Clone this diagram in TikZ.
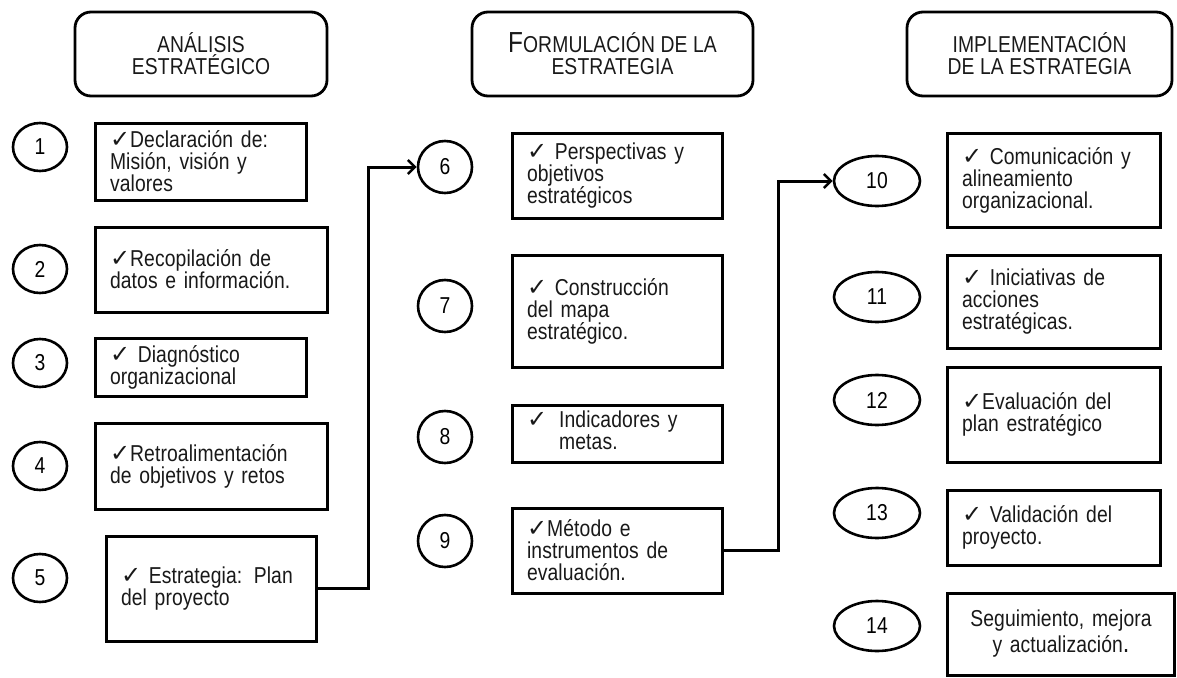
\documentclass[tikz,border=0pt]{standalone}
\usepackage{fontspec}
\setmainfont[LetterSpace=0.5,FakeStretch=0.84]{Liberation Sans}
\newfontfamily\symfont{DejaVu Sans}
\usetikzlibrary{arrows.meta,shadows,shapes.geometric}
\newcommand\ck{{\symfont\fontsize{24}{22}\selectfont ✓}}
\begin{document}
\begin{tikzpicture}[x=1pt,y=-1pt,
  txt/.style={font=\fontsize{23}{22}\selectfont, text=black!90},
  head/.style={txt, draw, line width=2.8pt, rounded corners=16pt, align=center},
  item/.style={txt, draw, line width=3pt, align=left, inner xsep=15pt, inner ysep=3pt, fill=white,
     drop shadow={shadow xshift=1.5pt, shadow yshift=-1.5pt, fill=black, opacity=0.25}},
  num/.style={txt, text=black, draw, ellipse, line width=2.6pt, inner sep=0pt},
  numa/.style={num, minimum width=54pt, minimum height=48pt},
  numb/.style={num, minimum width=54pt, minimum height=52pt},
  numc/.style={num, minimum width=86pt, minimum height=50pt},
  conn/.style={line width=3pt, -{Straight Barb[length=7pt,width=14pt,line width=2.6pt]}}
]
\useasboundingbox (0,0) rectangle (1177,677);

% headers
\node[head, minimum width=252pt, minimum height=84pt] (h1) at (201,54) {ANÁLISIS\\ESTRATÉGICO};
\node[head, minimum width=281pt, minimum height=84pt] (h2) at (612.5,54) {{\fontsize{29}{22}\selectfont F}ORMULACIÓN DE LA\\ESTRATEGIA};
\node[head, minimum width=265pt, minimum height=84pt] (h3) at (1039.5,54) {IMPLEMENTACIÓN\\DE LA ESTRATEGIA};

% column 1
\node[numa] (c1) at (40,147) {1};
\node[numa] (c2) at (40,269) {2};
\node[numa] (c3) at (40,363) {3};
\node[numa] (c4) at (40,466) {4};
\node[numa] (c5) at (40,578) {5};

\node[item, text width=181pt, minimum height=77pt] (b1) at (200.5,161.5) {\ck Declaración de:\\Misión, visión y\\valores};
\node[item, text width=202pt, minimum height=85pt] (b2) at (211,269.5) {\ck Recopilación de\\datos e información.};
\node[item, text width=181pt, minimum height=58pt] (b3) at (200.5,367) {\ck\ Diagnóstico\\organizacional};
\node[item, text width=202pt, minimum height=86pt] (b4) at (211,466) {\ck Retroalimentación\\de objetivos y retos};
\node[item, text width=180pt, minimum height=105pt] (b5) at (211,588.5) {\ck\ Estrategia: Plan\\del proyecto};

% column 2
\node[numb] (c6) at (445,167) {6};
\node[numb] (c7) at (445,306) {7};
\node[numb] (c8) at (445,437) {8};
\node[numb] (c9) at (445,541) {9};

\node[item, text width=180pt, minimum height=85pt] (b6) at (617,175.5) {\ck\ Perspectivas y\\objetivos\\estratégicos};
\node[item, text width=180pt, minimum height=112pt] (b7) at (617,311) {\ck\ Construcción\\del mapa\\estratégico.};
\node[item, text width=180pt, minimum height=57pt] (b8) at (617,433.5) {\ck\hspace{12pt}\begin{tabular}[t]{@{}l@{}}Indicadores y\\metas.\end{tabular}};
\node[item, text width=180pt, minimum height=85pt] (b9) at (617,550.5) {\ck Método e\\instrumentos de\\evaluación.};

% column 3
\node[numc] (c10) at (877,181) {10};
\node[numc] (c11) at (877,297) {11};
\node[numc] (c12) at (877,400) {12};
\node[numc] (c13) at (877,513) {13};
\node[numc] (c14) at (877,626) {14};

\node[item, text width=183pt, minimum height=94pt] (b10) at (1053.5,180) {\ck\ Comunicación y\\alineamiento\\organizacional.};
\node[item, text width=183pt, minimum height=93pt] (b11) at (1053.5,301.5) {\ck\ Iniciativas de\\acciones\\estratégicas.};
\node[item, text width=183pt, minimum height=95pt] (b12) at (1053.5,414.5) {\ck Evaluación del\\plan estratégico};
\node[item, text width=183pt, minimum height=75pt] (b13) at (1053.5,527.5) {\ck\ Validación del\\proyecto.};
\node[item, align=center, inner xsep=6pt, text width=215pt, minimum height=82pt, font=\fontsize{23}{26}\selectfont] (b14) at (1061,634) {Seguimiento, mejora\\y actualización{\fontsize{28}{26}\selectfont .}};

% connectors
\coordinate (j1) at (368,167);
\coordinate (j2) at (778,181);
\draw[conn] (b5.east) -| (j1) -- (c6.west);
\draw[conn] (b9.east) -| (j2) -- (c10.west);
\end{tikzpicture}
\end{document}
